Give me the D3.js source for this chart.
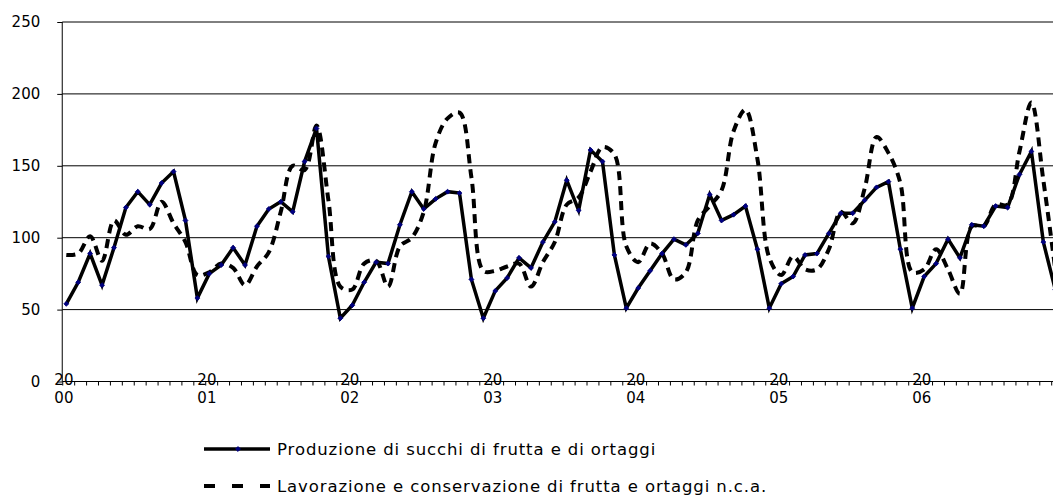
<!DOCTYPE html>
<html>
<head>
<meta charset="utf-8">
<script src="https://cdn.jsdelivr.net/npm/d3@7"></script>
<style>
  html, body { margin: 0; padding: 0; background: #fff; }
  svg { display: block; font-family: "DejaVu Sans", Verdana, sans-serif; }
</style>
</head>
<body>
<svg id="chart" width="1053" height="496"></svg>
<script>
// monthly series, Jan 2000 .. Dec 2006
const years = ["2000", "2001", "2002", "2003", "2004", "2005", "2006"];
const yTicks = [0, 50, 100, 150, 200, 250];
const seriesNames = [
  "Produzione di succhi di frutta e di ortaggi",
  "Lavorazione e conservazione di frutta e ortaggi n.c.a."
];
const succhi = [
  54, 69, 89, 67, 93, 121, 132, 123, 138, 146, 112, 58,
  75, 81, 93, 81, 108, 120, 125, 118, 153, 176, 87, 44,
  53, 69, 83, 82, 109, 132, 120, 127, 132, 131, 71, 44,
  63, 72, 86, 79, 97, 111, 140, 119, 161, 153, 88, 51,
  65, 77, 89, 99, 95, 103, 130, 112, 116, 122, 92, 51,
  68, 73, 88, 89, 103, 117, 117, 126, 135, 139, 92, 51,
  73, 82, 99, 86, 109, 108, 122, 121, 144, 160, 97, 64
];
const conservazione = [
  88, 89, 101, 84, 112, 102, 108, 106, 125, 110, 97, 74,
  76, 82, 79, 67, 80, 90, 118, 150, 147, 178, 126, 66,
  64, 82, 84, 66, 94, 100, 118, 166, 183, 187, 142, 77,
  77, 80, 82, 66, 83, 97, 123, 128, 146, 163, 158, 94,
  83, 96, 89, 71, 76, 112, 122, 133, 174, 189, 155, 86,
  74, 87, 78, 78, 92, 118, 110, 134, 170, 159, 138, 76,
  78, 92, 78, 61, 108, 108, 123, 123, 160, 194, 140, 78
];

const width = 1053, height = 496;
const step = 11.915;
const svg = d3.select("#chart");

const x = d3.scaleLinear().domain([0, 83]).range([66.3, 66.3 + 83 * step]);
const y = d3.scaleLinear().domain([0, 250]).range([381.5, 22]);
const plotLeft = x(-0.34);

// gridlines
svg.append("g")
  .selectAll("line")
  .data(yTicks.filter(d => d > 0))
  .join("line")
  .attr("x1", plotLeft).attr("x2", width)
  .attr("y1", d => y(d)).attr("y2", d => y(d))
  .attr("stroke", "#000").attr("stroke-width", 1);

// y axis
const yAxis = svg.append("g")
  .attr("transform", `translate(${plotLeft},0)`)
  .call(d3.axisLeft(y).tickValues(yTicks).tickSize(5).tickPadding(17));
yAxis.select(".domain").attr("stroke", "#000").attr("d", `M0,${y(250)}V${y(0)}`);
yAxis.selectAll("text").attr("font-size", 15).attr("fill", "#000")
  .attr("font-family", "DejaVu Sans, Verdana, sans-serif");

// x axis: tick marks on category boundaries
const boundaries = d3.range(0, 85).map(k => k - 0.34);
const xAxis = svg.append("g")
  .attr("transform", `translate(0,${y(0)})`)
  .call(d3.axisBottom(x).tickValues(boundaries).tickSize(4).tickFormat(""));
xAxis.select(".domain").attr("stroke", "#000").attr("d", `M${plotLeft},0H${width}`);

// year labels, wrapped in two lines as in the original
const yearLabels = svg.append("g")
  .selectAll("text")
  .data(years)
  .join("text")
  .attr("text-anchor", "middle")
  .attr("font-size", 15)
  .attr("fill", "#000");
yearLabels.append("tspan")
  .attr("x", (d, i) => x(i * 12 - 0.2))
  .attr("y", y(0) + 3.5)
  .text(d => d.slice(0, 2));
yearLabels.append("tspan")
  .attr("x", (d, i) => x(i * 12 - 0.2))
  .attr("y", y(0) + 21.5)
  .text(d => d.slice(2));

// dashed series (smoothed)
const dashedLine = d3.line()
  .x((d, i) => x(i))
  .y(d => y(d))
  .curve(d3.curveCatmullRom.alpha(0.5));
svg.append("path")
  .datum(conservazione)
  .attr("d", dashedLine)
  .attr("fill", "none")
  .attr("stroke", "#000")
  .attr("stroke-width", 4)
  .attr("stroke-dasharray", "9,6");

// solid series
const solidLine = d3.line().x((d, i) => x(i)).y(d => y(d));
svg.append("path")
  .datum(succhi)
  .attr("d", solidLine)
  .attr("fill", "none")
  .attr("stroke", "#000")
  .attr("stroke-width", 3.5)
  .attr("stroke-linejoin", "miter");

const marker = d3.symbol(d3.symbolSquare).size(12);
svg.append("g")
  .selectAll("path")
  .data(succhi)
  .join("path")
  .attr("d", marker)
  .attr("transform", (d, i) => `translate(${x(i)},${y(d)}) rotate(45)`)
  .attr("fill", "#000080")
  .attr("stroke", "#000080")
  .attr("stroke-width", 0.8);

// legend
const legend = svg.append("g");
const legendRows = [
  { name: seriesNames[0], y: 449, dash: null },
  { name: seriesNames[1], y: 486, dash: "11,17" }
];
legendRows.forEach((r, k) => {
  legend.append("line")
    .attr("x1", 204).attr("x2", 270)
    .attr("y1", r.y).attr("y2", r.y)
    .attr("stroke", "#000")
    .attr("stroke-width", k === 0 ? 3.5 : 4)
    .attr("stroke-dasharray", r.dash);
  if (k === 0) {
    legend.append("path")
      .attr("d", marker)
      .attr("transform", `translate(238,${r.y}) rotate(45)`)
      .attr("fill", "#000080")
      .attr("stroke", "#000080")
      .attr("stroke-width", 0.8);
  }
  legend.append("text")
    .attr("x", 277)
    .attr("y", r.y + 6)
    .attr("font-size", 16.5)
    .attr("letter-spacing", 0.9)
    .attr("fill", "#000")
    .text(r.name);
});
</script>
</body>
</html>
